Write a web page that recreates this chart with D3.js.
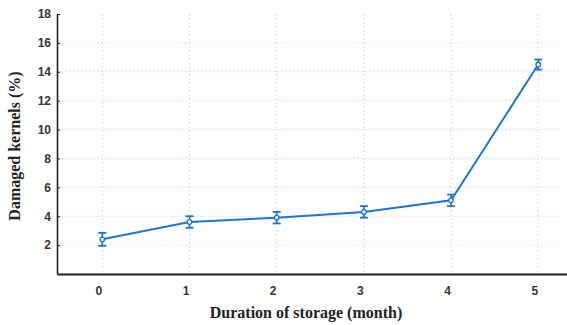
<!DOCTYPE html>
<html>
  <head>
    <meta charset="UTF-8" />
    <script src="https://d3js.org/d3.v7.min.js"></script>
    <style>
      body { margin: 0; background: #fff; }
      .tick text { font-family: "Liberation Sans", Arial, sans-serif; font-weight: bold; fill: #333; }
      .title { font-family: "Liberation Serif", "Times New Roman", serif; font-weight: bold; fill: #222; }
    </style>
  </head>
  <body>
    <script>
      // months of storage
      var months = [0, 1, 2, 3, 4, 5];
      // mean damaged kernels (%)
      var damaged = [2.4, 3.6, 3.9, 4.3, 5.1, 14.5];
      // error (+/-)
      var errors = [0.45, 0.4, 0.4, 0.4, 0.4, 0.35];
      var yTicks = [2, 4, 6, 8, 10, 12, 14, 16, 18];

      var width = 567, height = 325;
      var svg = d3.select("body").append("svg")
          .attr("width", width)
          .attr("height", height);

      var margin = { left: 57, top: 14, right: 0, bottom: 50 };

      var x = d3.scaleLinear().domain([-0.52, 5.33]).range([margin.left, width - margin.right]);
      var y = d3.scaleLinear().domain([0, 18]).range([height - margin.bottom - 1, margin.top]);

      // grid
      var grid = svg.append("g").attr("stroke", "#c4e0f5").attr("stroke-width", 1)
          .attr("stroke-dasharray", "2,2");
      grid.selectAll("line.h").data(yTicks.filter(d => d < 18)).enter().append("line")
          .attr("x1", margin.left).attr("x2", width - 8)
          .attr("y1", d => y(d)).attr("y2", d => y(d));
      grid.selectAll("line.v").data(months).enter().append("line")
          .attr("x1", d => x(d)).attr("x2", d => x(d))
          .attr("y1", y(18)).attr("y2", y(0));

      // axes
      var gy = svg.append("g")
          .attr("transform", "translate(" + margin.left + ",0)")
          .call(d3.axisLeft(y).tickValues(yTicks).tickSize(-3).tickPadding(6).tickSizeOuter(0));
      gy.select(".domain").attr("stroke", "#222").attr("stroke-width", 1.6);
      gy.selectAll(".tick line").attr("stroke", "#222");
      gy.selectAll(".tick text").attr("font-size", 12);

      var gx = svg.append("g")
          .attr("transform", "translate(0," + y(0) + ")")
          .call(d3.axisBottom(x).tickValues(months).tickSize(0).tickPadding(12).tickFormat(d3.format("d")));
      gx.select(".domain").attr("stroke", "#222").attr("stroke-width", 1.8);
      gx.selectAll(".tick text").attr("font-size", 12).attr("dx", -4);

      // line
      var blue = "#1f74d0";
      var line = d3.line().x((d, i) => x(months[i])).y(d => y(d));
      svg.append("path").datum(damaged)
          .attr("fill", "none").attr("stroke", blue).attr("stroke-width", 2)
          .attr("d", line);

      // error bars
      var eb = svg.append("g").attr("stroke", blue).attr("stroke-width", 1.8);
      months.forEach(function (m, i) {
        var cx = x(m), lo = y(damaged[i] - errors[i]), hi = y(damaged[i] + errors[i]);
        eb.append("line").attr("x1", cx).attr("x2", cx).attr("y1", lo).attr("y2", hi);
        eb.append("line").attr("x1", cx - 4).attr("x2", cx + 4).attr("y1", lo).attr("y2", lo);
        eb.append("line").attr("x1", cx - 4).attr("x2", cx + 4).attr("y1", hi).attr("y2", hi);
      });
      svg.append("g").selectAll("circle").data(damaged).enter().append("circle")
          .attr("cx", (d, i) => x(months[i])).attr("cy", d => y(d)).attr("r", 2.3)
          .attr("fill", "#fff").attr("stroke", blue).attr("stroke-width", 1.3);

      // titles
      svg.append("text").attr("class", "title")
          .attr("x", 306).attr("y", 318).attr("text-anchor", "middle")
          .attr("font-size", 16).text("Duration of storage (month)");
      svg.append("text").attr("class", "title")
          .attr("transform", "translate(20,146) rotate(-90)").attr("text-anchor", "middle")
          .attr("font-size", 16).text("Damaged kernels (%)");
    </script>
  </body>
</html>
